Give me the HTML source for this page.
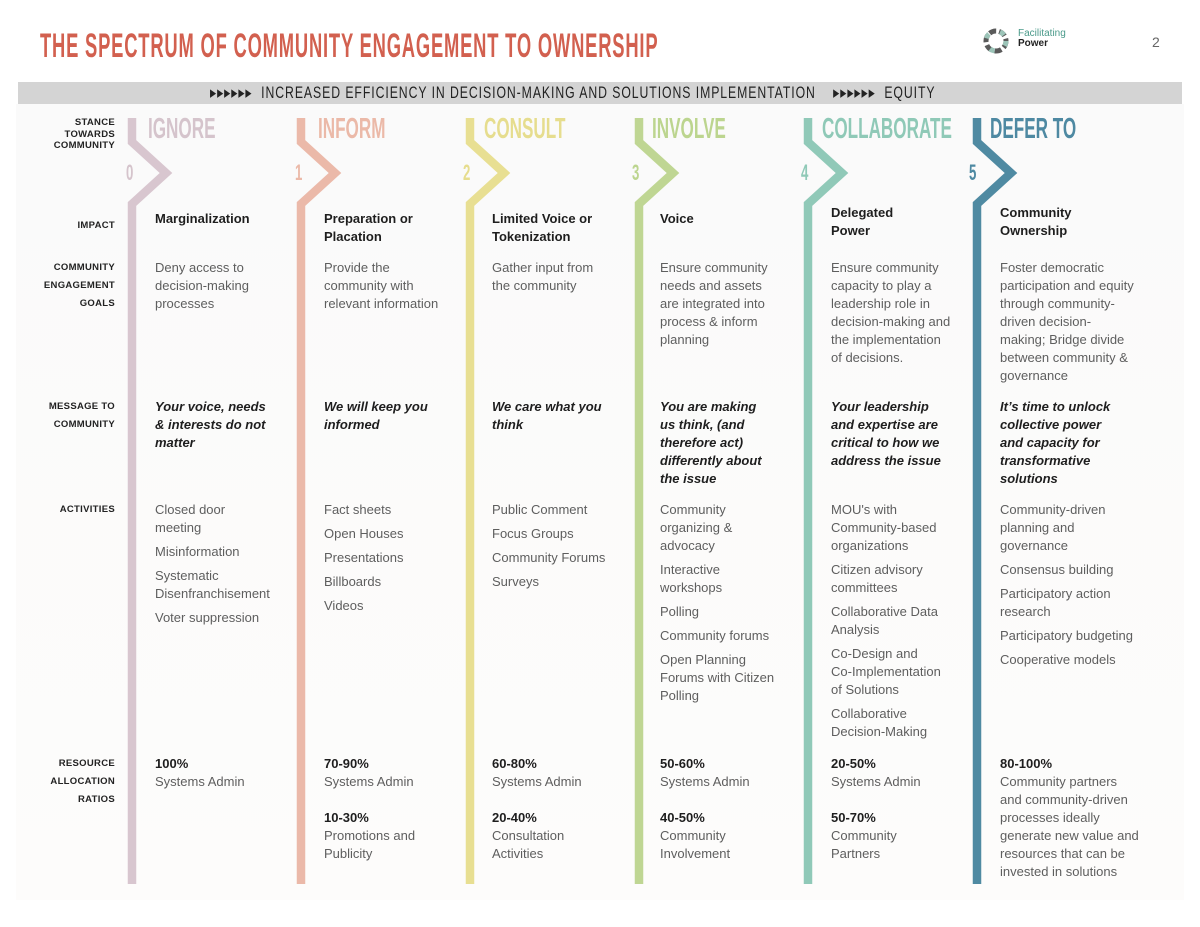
<!DOCTYPE html>
<html><head><meta charset="utf-8">
<style>
html,body{margin:0;padding:0;background:#fff;}
body{width:1200px;height:927px;position:relative;overflow:hidden;font-family:"Liberation Sans",sans-serif;}
.a{position:absolute;white-space:nowrap;}
.t{font-size:13px;line-height:18px;color:#5e5e5e;}
.b{font-weight:bold;color:#1e1e1e;}
.i{font-style:italic;font-weight:bold;color:#1e1e1e;}
.lab{position:absolute;right:1085px;text-align:right;font-size:9.5px;font-weight:bold;color:#222;line-height:18px;letter-spacing:.3px;white-space:nowrap;}
.head{position:absolute;top:114px;font-weight:bold;font-size:29px;line-height:30px;transform:scaleX(.59);transform-origin:left top;white-space:nowrap;}
.num{position:absolute;top:160px;font-weight:bold;font-size:22px;transform:scaleX(.6);transform-origin:left top;}
.gap{height:6px;}
</style></head><body>
<div style="position:absolute;left:16px;top:104px;width:1168px;height:796px;background:linear-gradient(#fafafa,#fdfcfb);"></div>
<div class="a" style="left:40px;top:27px;font-size:34px;font-weight:bold;color:#d2604f;transform:scaleX(.54);transform-origin:left top;letter-spacing:1.5px;">THE SPECTRUM OF COMMUNITY ENGAGEMENT TO OWNERSHIP</div>
<div class="a" style="left:982px;top:28px;width:30px;height:26px;">
<svg width="30" height="26"><circle cx="14" cy="13" r="10" fill="none" stroke="#5a5a5a" stroke-width="5" stroke-dasharray="7 3"/><circle cx="14" cy="13" r="10" fill="none" stroke="#9cc4b8" stroke-width="5" stroke-dasharray="5 12"/></svg></div>
<div class="a" style="left:1018px;top:29px;font-size:10px;line-height:10px;color:#4a9a8a;">Facilitating<br><b style="color:#222">Power</b></div>
<div class="a" style="left:1152px;top:34px;font-size:14px;color:#666;">2</div>
<div style="position:absolute;left:18px;top:82px;width:1164px;height:22px;background:#d4d4d4;"></div>
<div class="a" style="left:210px;top:84px;font-size:17px;line-height:18px;color:#222;transform:scaleX(.72);transform-origin:left top;letter-spacing:1.3px;">▸▸▸▸▸▸&nbsp;&nbsp;INCREASED EFFICIENCY IN DECISION-MAKING AND SOLUTIONS IMPLEMENTATION&nbsp;&nbsp;&nbsp;&nbsp;▸▸▸▸▸▸&nbsp;&nbsp;EQUITY</div>

<svg class="a" style="left:0;top:0" width="1200" height="927">
<g fill="none" stroke-width="8.5" stroke-linejoin="miter">
<polyline stroke="#d8c6cf" points="132,118 132,142 166,173 132,204 132,884"/>
<polyline stroke="#ebb9a9" points="301,118 301,142 335,173 301,204 301,884"/>
<polyline stroke="#e8df92" points="470,118 470,142 504,173 470,204 470,884"/>
<polyline stroke="#bfd693" points="639,118 639,142 673,173 639,204 639,884"/>
<polyline stroke="#90c9b8" points="808,118 808,142 842,173 808,204 808,884"/>
<polyline stroke="#4f8aa2" points="977,118 977,142 1011,173 977,204 977,884"/>
</g></svg>

<div class="head" style="left:148px;color:#d5c4cc;">IGNORE</div>
<div class="head" style="left:318px;color:#ebb9a8;">INFORM</div>
<div class="head" style="left:484px;color:#e6dd8e;">CONSULT</div>
<div class="head" style="left:652px;color:#bcd58f;">INVOLVE</div>
<div class="head" style="left:822px;color:#8fc9b7;">COLLABORATE</div>
<div class="head" style="left:990px;color:#4e89a2;">DEFER TO</div>
<div class="num" style="left:126px;color:#d5c4cc;">0</div>
<div class="num" style="left:295px;color:#ebb9a8;">1</div>
<div class="num" style="left:463px;color:#e6dd8e;">2</div>
<div class="num" style="left:632px;color:#bcd58f;">3</div>
<div class="num" style="left:801px;color:#8fc9b7;">4</div>
<div class="num" style="left:969px;color:#4e89a2;">5</div>

<div class="lab" style="top:117px;line-height:11.5px;">STANCE<br>TOWARDS<br>COMMUNITY</div>
<div class="lab" style="top:217px;">IMPACT</div>
<div class="lab" style="top:259px;">COMMUNITY<br>ENGAGEMENT<br>GOALS</div>
<div class="lab" style="top:398px;">MESSAGE TO<br>COMMUNITY</div>
<div class="lab" style="top:501px;">ACTIVITIES</div>
<div class="lab" style="top:755px;">RESOURCE<br>ALLOCATION<br>RATIOS</div>

<div class="a t b" style="left:155px;top:210px;">Marginalization</div>
<div class="a t b" style="left:324px;top:210px;">Preparation or<br>Placation</div>
<div class="a t b" style="left:492px;top:210px;">Limited Voice or<br>Tokenization</div>
<div class="a t b" style="left:660px;top:210px;">Voice</div>
<div class="a t b" style="left:831px;top:204px;">Delegated<br>Power</div>
<div class="a t b" style="left:1000px;top:204px;">Community<br>Ownership</div>

<div class="a t" style="left:155px;top:259px;">Deny access to<br>decision-making<br>processes</div>
<div class="a t" style="left:324px;top:259px;">Provide the<br>community with<br>relevant information</div>
<div class="a t" style="left:492px;top:259px;">Gather input from<br>the community</div>
<div class="a t" style="left:660px;top:259px;">Ensure community<br>needs and assets<br>are integrated into<br>process &amp; inform<br>planning</div>
<div class="a t" style="left:831px;top:259px;">Ensure community<br>capacity to play a<br>leadership role in<br>decision-making and<br>the implementation<br>of decisions.</div>
<div class="a t" style="left:1000px;top:259px;">Foster democratic<br>participation and equity<br>through community-<br>driven decision-<br>making; Bridge divide<br>between community &amp;<br>governance</div>

<div class="a t i" style="left:155px;top:398px;">Your voice, needs<br>&amp; interests do not<br>matter</div>
<div class="a t i" style="left:324px;top:398px;">We will keep you<br>informed</div>
<div class="a t i" style="left:492px;top:398px;">We care what you<br>think</div>
<div class="a t i" style="left:660px;top:398px;">You are making<br>us think, (and<br>therefore act)<br>differently about<br>the issue</div>
<div class="a t i" style="left:831px;top:398px;">Your leadership<br>and expertise are<br>critical to how we<br>address the issue</div>
<div class="a t i" style="left:1000px;top:398px;">It’s time to unlock<br>collective power<br>and capacity for<br>transformative<br>solutions</div>

<div class="a t" style="left:155px;top:501px;">Closed door<br>meeting<div class="gap"></div>Misinformation<div class="gap"></div>Systematic<br>Disenfranchisement<div class="gap"></div>Voter suppression</div>
<div class="a t" style="left:324px;top:501px;">Fact sheets<div class="gap"></div>Open Houses<div class="gap"></div>Presentations<div class="gap"></div>Billboards<div class="gap"></div>Videos</div>
<div class="a t" style="left:492px;top:501px;">Public Comment<div class="gap"></div>Focus Groups<div class="gap"></div>Community Forums<div class="gap"></div>Surveys</div>
<div class="a t" style="left:660px;top:501px;">Community<br>organizing &amp;<br>advocacy<div class="gap"></div>Interactive<br>workshops<div class="gap"></div>Polling<div class="gap"></div>Community forums<div class="gap"></div>Open Planning<br>Forums with Citizen<br>Polling</div>
<div class="a t" style="left:831px;top:501px;">MOU's with<br>Community-based<br>organizations<div class="gap"></div>Citizen advisory<br>committees<div class="gap"></div>Collaborative Data<br>Analysis<div class="gap"></div>Co-Design and<br>Co-Implementation<br>of Solutions<div class="gap"></div>Collaborative<br>Decision-Making</div>
<div class="a t" style="left:1000px;top:501px;">Community-driven<br>planning and<br>governance<div class="gap"></div>Consensus building<div class="gap"></div>Participatory action<br>research<div class="gap"></div>Participatory budgeting<div class="gap"></div>Cooperative models</div>

<div class="a t" style="left:155px;top:755px;"><b style="color:#1e1e1e">100%</b><br>Systems Admin</div>
<div class="a t" style="left:324px;top:755px;"><b style="color:#1e1e1e">70-90%</b><br>Systems Admin<div style="height:18px"></div><b style="color:#1e1e1e">10-30%</b><br>Promotions and<br>Publicity</div>
<div class="a t" style="left:492px;top:755px;"><b style="color:#1e1e1e">60-80%</b><br>Systems Admin<div style="height:18px"></div><b style="color:#1e1e1e">20-40%</b><br>Consultation<br>Activities</div>
<div class="a t" style="left:660px;top:755px;"><b style="color:#1e1e1e">50-60%</b><br>Systems Admin<div style="height:18px"></div><b style="color:#1e1e1e">40-50%</b><br>Community<br>Involvement</div>
<div class="a t" style="left:831px;top:755px;"><b style="color:#1e1e1e">20-50%</b><br>Systems Admin<div style="height:18px"></div><b style="color:#1e1e1e">50-70%</b><br>Community<br>Partners</div>
<div class="a t" style="left:1000px;top:755px;"><b style="color:#1e1e1e">80-100%</b><br>Community partners<br>and community-driven<br>processes ideally<br>generate new value and<br>resources that can be<br>invested in solutions</div>
</body></html>
